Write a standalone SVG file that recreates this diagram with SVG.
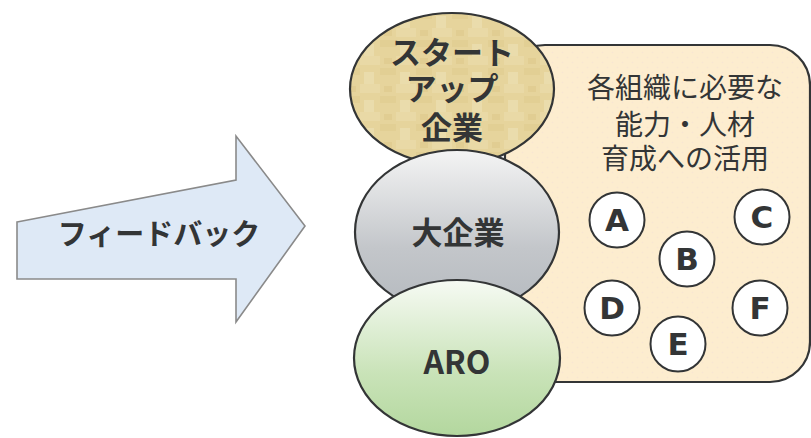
<svg xmlns="http://www.w3.org/2000/svg" width="811" height="438" viewBox="0 0 811 438">
<defs>
<style>
.jp{font-family:"Noto Sans CJK JP","Noto Sans",sans-serif;fill:#333536;text-anchor:middle}
.b{font-weight:bold}
.lt{font-family:"DejaVu Sans",Verdana,sans-serif;font-weight:bold;fill:#333536;text-anchor:middle;font-size:31px}
.node{stroke:#333536;stroke-width:2.2}
.circ{fill:#ffffff;stroke:#333536;stroke-width:2}
</style>
<pattern id="dots" width="10" height="10" patternUnits="userSpaceOnUse">
<rect width="10" height="10" fill="#FDEDCF"/>
<circle cx="2.5" cy="2.5" r="0.8" fill="#F8E5D4"/>
<circle cx="7.5" cy="7.5" r="0.8" fill="#F8E5D4"/>
</pattern>
<pattern id="tex" width="36" height="28" patternUnits="userSpaceOnUse">
<rect width="36" height="28" fill="#E6D49C"/>
<rect x="0" y="0" width="20" height="9" fill="#E9D9A6"/>
<rect x="20" y="12" width="16" height="7" fill="#E2CF94"/>
<rect x="4" y="16" width="10" height="12" fill="#EADCAC"/>
<rect x="24" y="2" width="8" height="6" fill="#E1CD92"/>
</pattern>
<linearGradient id="gray" x1="0" y1="0" x2="0" y2="1">
<stop offset="0" stop-color="#F4F4F4"/>
<stop offset="0.6" stop-color="#C3C6CA"/>
<stop offset="1" stop-color="#B4B9BE"/>
</linearGradient>
<linearGradient id="green" x1="0" y1="0" x2="0" y2="1">
<stop offset="0" stop-color="#F6FAF3"/>
<stop offset="0.6" stop-color="#C9E3B8"/>
<stop offset="1" stop-color="#B3D79E"/>
</linearGradient>
</defs>

<g id="feedback-arrow">
<path d="M17,222 L236,180 L236,136 L305,226 L236,322 L236,279 L17,279 Z" fill="#DEE9F6" stroke="#8A8A8A" stroke-width="1.6"/>
<text class="jp b" x="159" y="245" font-size="29">フィードバック</text>
</g>

<g id="capability-box">
<rect x="505" y="45" width="305" height="337" rx="40" ry="40" fill="url(#dots)" class="node"/>
<text class="jp" x="685" y="98" font-size="28">各組織に必要な</text>
<text class="jp" x="685" y="135" font-size="28">能力・人材</text>
<text class="jp" x="685" y="169" font-size="28">育成への活用</text>
</g>

<g id="startup">
<ellipse cx="452" cy="89" rx="102" ry="76" fill="url(#tex)" class="node"/>
<text class="jp b" x="452" y="64" font-size="31">スタート</text>
<text class="jp b" x="452" y="100" font-size="31">アップ</text>
<text class="jp b" x="452" y="139" font-size="31">企業</text>
</g>

<g id="large-company">
<ellipse cx="457" cy="232" rx="102" ry="82" fill="url(#gray)" class="node"/>
<text class="jp b" x="458" y="244" font-size="31">大企業</text>
</g>

<g id="aro">
<ellipse cx="457" cy="358" rx="103" ry="78" fill="url(#green)" class="node"/>
<text class="jp b" x="457" y="374" font-size="32">ARO</text>
</g>

<g id="node-A"><circle cx="617" cy="220" r="27.5" class="circ"/><text class="lt" x="617" y="231">A</text></g>
<g id="node-B"><circle cx="687" cy="259" r="27.5" class="circ"/><text class="lt" x="687" y="270">B</text></g>
<g id="node-C"><circle cx="762" cy="217" r="27.5" class="circ"/><text class="lt" x="762" y="228">C</text></g>
<g id="node-D"><circle cx="612" cy="308" r="27.5" class="circ"/><text class="lt" x="612" y="319">D</text></g>
<g id="node-E"><circle cx="678" cy="344" r="27.5" class="circ"/><text class="lt" x="678" y="355">E</text></g>
<g id="node-F"><circle cx="760" cy="308" r="27.5" class="circ"/><text class="lt" x="760" y="319">F</text></g>

<g id="connectors"></g>
</svg>
